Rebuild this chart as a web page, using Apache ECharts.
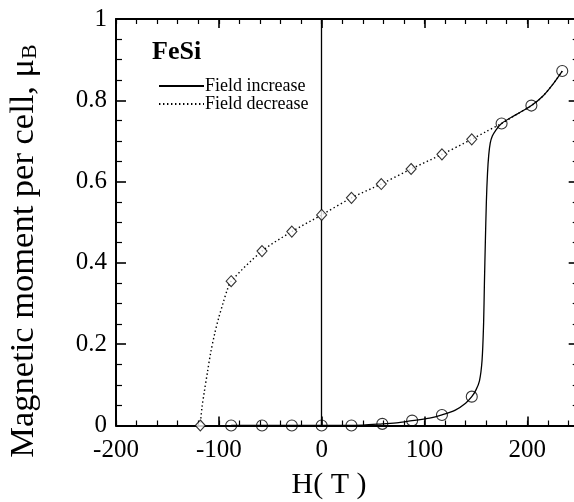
<!DOCTYPE html>
<html>
<head>
<meta charset="utf-8">
<script src="https://cdn.jsdelivr.net/npm/echarts@6/dist/echarts.min.js"></script>
<style>html,body{margin:0;padding:0;background:#fff;overflow:hidden;width:574px;height:502px;}#c{width:581px;height:502px;}</style>
</head>
<body>
<div id="c"></div>
<script>
// Measured points (circles: field increase, diamonds: field decrease)
const circleH = [-88, -58, -29, 0, 29, 59, 88, 117, 146, 175, 204, 234];
const circleM = [0, 0, 0, 0, 0, 0.004, 0.012, 0.026, 0.071, 0.743, 0.787, 0.872];
const diamondH = [-118, -88, -58, -29, 0, 29, 58, 87, 117, 146];
const diamondM = [0, 0.355, 0.429, 0.477, 0.518, 0.560, 0.594, 0.631, 0.667, 0.704];
// Curves
const incH = [-88, 0, 40, 59, 75, 88, 105, 117, 130, 140, 146, 150, 153.5, 156, 157.5, 158.3, 159.2, 160.2, 161.3, 162.5, 164, 166, 169, 175, 190, 204, 215, 225, 234];
const incM = [0, 0, 0.001, 0.004, 0.007, 0.012, 0.018, 0.026, 0.038, 0.055, 0.071, 0.087, 0.11, 0.16, 0.25, 0.35, 0.45, 0.55, 0.62, 0.665, 0.695, 0.712, 0.725, 0.743, 0.766, 0.787, 0.81, 0.84, 0.872];
const decH = [234, 225, 215, 204, 190, 175, 160, 146, 117, 87, 58, 29, 0, -29, -58, -88, -92, -96, -100, -104, -108, -111, -114, -116.5, -118];
const decM = [0.872, 0.84, 0.81, 0.787, 0.766, 0.743, 0.723, 0.704, 0.667, 0.631, 0.594, 0.560, 0.518, 0.477, 0.429, 0.355, 0.332, 0.300, 0.266, 0.226, 0.178, 0.132, 0.085, 0.042, 0];

const zip = (a, b) => a.map((v, i) => [v, b[i]]);
const serif = 'Liberation Serif';
const chart = echarts.init(document.getElementById('c'), null, {renderer: 'canvas'});

const xBase = {type: 'value', min: -200, max: 250, gridIndex: 0};
const majorX = (pos, labels) => Object.assign({}, xBase, {
  position: pos, interval: 100,
  axisLine: {show: true, onZero: false, lineStyle: {color: '#000', width: 2}},
  axisTick: {show: true, inside: true, length: 9, lineStyle: {color: '#000', width: 1.6}},
  axisLabel: {show: labels, showMaxLabel: false, margin: 12, color: '#000', fontFamily: serif, fontSize: 25},
  splitLine: {show: false}
});
const minorX = (pos) => Object.assign({}, xBase, {
  position: pos, interval: 20,
  axisLine: {show: false, onZero: false},
  axisTick: {show: true, inside: true, length: 5, lineStyle: {color: '#000', width: 1.2}},
  axisLabel: {show: false},
  splitLine: {show: false}
});
const yAx = (pos, labels) => ({
  type: 'value', min: 0, max: 1, interval: 0.2, position: pos,
  axisLine: {show: true, onZero: false, lineStyle: {color: '#000', width: 2}},
  axisTick: {show: true, inside: true, length: 10, lineStyle: {color: '#000', width: 1.6}},
  minorTick: {show: true, splitNumber: 4, length: 6, lineStyle: {color: '#000', width: 1.2}},
  axisLabel: {show: labels, margin: 9, color: '#000', fontFamily: serif, fontSize: 25},
  splitLine: {show: false}, minorSplitLine: {show: false}
});

chart.setOption({
  animation: false,
  backgroundColor: '#fff',
  grid: {left: 116, top: 19, right: 2.3, bottom: 76.5, containLabel: false},
  title: {text: 'FeSi', left: 147, top: 34, textStyle: {fontFamily: serif, fontWeight: 'bold', fontSize: 26, color: '#000'}},
  legend: {
    orient: 'vertical', left: 153, top: 72, itemWidth: 45, itemHeight: 10, itemGap: 0,
    data: ['Field increase', 'Field decrease'],
    itemStyle: {opacity: 0},
    textStyle: {fontFamily: serif, fontSize: 18, color: '#000', padding: [0, 0, 0, -4]}
  },
  xAxis: [majorX('bottom', true), majorX('top', false), minorX('bottom'), minorX('top')],
  yAxis: [yAx('left', true), yAx('right', false)],
  graphic: [
    {type: 'text', x: 24, y: 251, rotation: Math.PI / 2,
     style: {text: 'Magnetic moment per cell, {mu|μ}{sub|B}', fill: '#000', font: '34.5px "Liberation Serif"', align: 'center', verticalAlign: 'middle',
       rich: {mu: {fontFamily: serif, fontSize: 34.5, fill: '#000'}, sub: {fontFamily: serif, fontSize: 22, fill: '#000', padding: [12, 0, 0, 0]}}}},
    {type: 'text', x: 329, y: 485, style: {text: 'H( T )', fill: '#000', font: '30px "Liberation Serif"', align: 'center', verticalAlign: 'middle'}}
  ],
  series: [
    {name: 'Field increase', type: 'line', data: zip(incH, incM), showSymbol: false, symbol: 'none', smooth: 0.3,
     lineStyle: {color: '#000', width: 1.3, type: 'solid'}, itemStyle: {color: '#000'},
     markLine: {silent: true, symbol: 'none', label: {show: false}, lineStyle: {color: '#000', width: 1.3, type: 'solid'}, data: [{xAxis: 0}]}},
    {name: 'Field decrease', type: 'line', data: zip(decH, decM), showSymbol: false, symbol: 'none', smooth: 0.3,
     lineStyle: {color: '#000', width: 1.4, type: [1.4, 2.6]}, itemStyle: {color: '#000'}},
    {name: 'circles', type: 'scatter', data: zip(circleH, circleM), symbol: 'circle', symbolSize: 11,
     itemStyle: {color: 'rgba(255,255,255,0)', borderColor: '#000', borderWidth: 1.1}, z: 5},
    {name: 'diamonds', type: 'scatter', data: zip(diamondH, diamondM), symbol: 'diamond', symbolSize: [10, 11],
     itemStyle: {color: '#fff', borderColor: '#000', borderWidth: 1.1}, z: 5}
  ]
});
</script>
</body>
</html>
